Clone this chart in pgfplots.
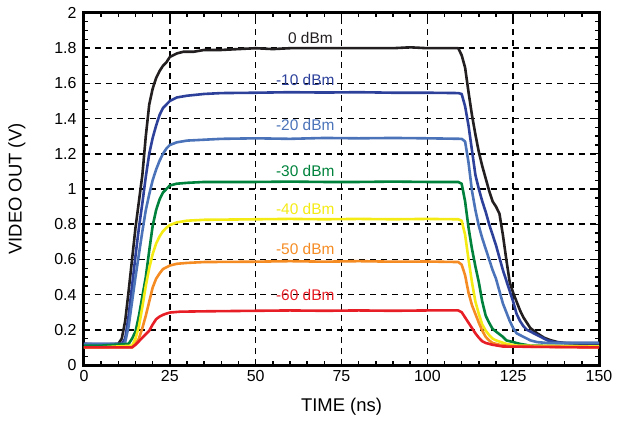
\documentclass[border=0pt]{standalone}
\usepackage{fontspec}
\setmainfont{Liberation Sans}
\usepackage{pgfplots}
\pgfplotsset{compat=1.18}
\definecolor{cblack}{RGB}{35,31,32}
\definecolor{cblue}{RGB}{45,65,155}
\definecolor{clblue}{RGB}{75,115,185}
\definecolor{cgreen}{RGB}{0,130,60}
\definecolor{cyellow}{RGB}{245,235,20}
\definecolor{corange}{RGB}{245,140,35}
\definecolor{cred}{RGB}{232,30,38}
\begin{document}
\begin{tikzpicture}
\begin{axis}[
  scale only axis, width=515bp, height=352bp,
  xmin=0, xmax=150, ymin=0, ymax=2,
  xtick={0,25,50,75,100,125,150}, ytick={0,0.2,0.4,0.6,0.8,1,1.2,1.4,1.6,1.8,2},
  minor x tick num=4, minor y tick num=3,
  tick pos=both, tick align=inside,
  major tick length=6bp, minor tick length=4bp,
  every tick/.style={black, line width=1.4bp},
  axis line style={line width=3bp, black},
  grid=major,
  major grid style={black, line width=1.6bp, dash pattern=on 6bp off 5bp},
  /pgf/number format/assume math mode=true,
  ticklabel style={font=\fontsize{16}{18}\selectfont},
  label style={font=\fontsize{18.5}{21}\selectfont},
  xlabel={TIME (ns)}, ylabel={VIDEO OUT (V)},
  xticklabel style={yshift=-2bp},
  yticklabel style={xshift=-4bp},
  xlabel shift=9bp,
  ylabel shift=22bp,
  every axis plot/.append style={line width=2.6bp, line join=round},
  clip=true,
]
% 0 dBm
\addplot[cblack] coordinates {(0,0.12)(5,0.115)(10,0.12)(11,0.15)(12,0.25)(13,0.42)(14,0.6)(15,0.78)(16,0.93)(17,1.08)(18,1.3)(19,1.48)(20,1.57)(21,1.63)(22,1.67)(23,1.70)(24,1.72)(25,1.75)(27,1.77)(29,1.78)(32,1.78)(35,1.79)(40,1.79)(45,1.795)(50,1.80)(55,1.795)(60,1.80)(70,1.80)(80,1.80)(90,1.80)(95,1.805)(100,1.80)(105,1.80)(109,1.80)(110,1.76)(111,1.69)(112,1.55)(113,1.42)(114,1.31)(115,1.21)(116,1.13)(117,1.06)(118,0.99)(119,0.93)(120,0.90)(121,0.86)(122,0.74)(123,0.60)(124,0.47)(125,0.41)(126,0.36)(127,0.31)(128,0.27)(129,0.24)(130,0.21)(132,0.18)(134,0.155)(136,0.14)(138,0.13)(140,0.125)(145,0.12)(150,0.12)};
% -10 dBm
\addplot[cblue] coordinates {(0,0.12)(5,0.12)(11,0.12)(12,0.15)(13,0.28)(14,0.45)(15,0.62)(16,0.78)(17,0.92)(18,1.07)(19,1.20)(20,1.29)(21,1.36)(22,1.42)(23,1.46)(24,1.48)(25,1.50)(27,1.52)(30,1.53)(35,1.54)(40,1.545)(50,1.547)(60,1.55)(70,1.548)(80,1.55)(90,1.547)(100,1.547)(109,1.545)(110,1.54)(111,1.47)(112,1.36)(113,1.22)(114,1.08)(115,1.00)(116,0.93)(117,0.87)(118,0.80)(119,0.74)(120,0.68)(121,0.61)(122,0.54)(123,0.48)(124,0.42)(125,0.36)(126,0.29)(127,0.25)(128,0.22)(129,0.20)(131,0.18)(133,0.16)(135,0.14)(137,0.13)(140,0.125)(150,0.125)};
% -20 dBm
\addplot[clblue] coordinates {(0,0.12)(5,0.12)(11.5,0.12)(12,0.13)(13,0.22)(14,0.36)(15,0.50)(16,0.63)(17,0.76)(18,0.88)(19,0.97)(20,1.05)(21,1.11)(22,1.16)(23,1.20)(24,1.23)(25,1.25)(27,1.265)(30,1.275)(35,1.28)(40,1.285)(50,1.288)(60,1.285)(70,1.29)(80,1.288)(90,1.29)(100,1.288)(110,1.285)(111,1.27)(112,1.15)(113,0.99)(114,0.88)(115,0.79)(116,0.72)(117,0.66)(118,0.60)(119,0.54)(120,0.49)(121,0.42)(122,0.35)(123,0.30)(124,0.25)(125,0.21)(126,0.18)(128,0.16)(130,0.14)(132,0.13)(135,0.125)(150,0.125)};
% -30 dBm
\addplot[cgreen] coordinates {(0,0.11)(5,0.11)(13,0.12)(14,0.15)(15,0.19)(16,0.28)(17,0.39)(18,0.50)(19,0.65)(20,0.79)(21,0.88)(22,0.94)(23,0.98)(24,1.00)(25,1.02)(27,1.03)(30,1.035)(35,1.04)(50,1.04)(60,1.042)(70,1.04)(80,1.04)(90,1.042)(100,1.04)(109,1.04)(110,1.03)(111,0.93)(112,0.78)(113,0.66)(114,0.56)(115,0.47)(116,0.36)(117,0.28)(118,0.24)(119,0.205)(120,0.19)(122,0.16)(123,0.14)(125,0.13)(127,0.12)(130,0.11)(150,0.105)};
% -40 dBm
\addplot[cyellow] coordinates {(0,0.10)(5,0.10)(14,0.11)(15,0.15)(16,0.22)(17,0.33)(18,0.45)(19,0.55)(20,0.63)(21,0.69)(22,0.73)(23,0.76)(24,0.78)(25,0.795)(27,0.81)(30,0.82)(35,0.825)(50,0.828)(60,0.83)(70,0.828)(80,0.83)(90,0.828)(100,0.83)(109,0.828)(110,0.82)(111,0.74)(112,0.60)(113,0.47)(114,0.36)(115,0.29)(116,0.23)(117,0.195)(118,0.17)(119,0.15)(120,0.14)(123,0.12)(126,0.11)(150,0.105)};
% -50 dBm
\addplot[corange] coordinates {(0,0.10)(5,0.10)(14,0.10)(15,0.12)(16,0.15)(17,0.21)(18,0.28)(19,0.36)(20,0.44)(21,0.49)(22,0.52)(23,0.545)(24,0.555)(25,0.565)(27,0.575)(30,0.58)(35,0.585)(50,0.587)(60,0.59)(70,0.587)(80,0.59)(90,0.587)(100,0.588)(109,0.585)(110,0.57)(111,0.51)(112,0.41)(113,0.34)(114,0.29)(115,0.24)(116,0.195)(117,0.16)(118,0.14)(119,0.125)(121,0.115)(125,0.105)(150,0.10)};
% -60 dBm
\addplot[cred] coordinates {(0,0.10)(5,0.10)(14,0.10)(15,0.115)(16,0.135)(17,0.155)(18,0.175)(19,0.195)(20,0.23)(21,0.26)(22,0.275)(23,0.285)(24,0.292)(25,0.298)(28,0.303)(35,0.305)(50,0.308)(60,0.31)(70,0.308)(80,0.31)(90,0.308)(100,0.31)(109,0.31)(110,0.30)(111,0.27)(112,0.24)(113,0.21)(114,0.18)(115,0.155)(116,0.135)(117,0.125)(119,0.115)(122,0.105)(150,0.10)};
\begin{scope}[font=\fontsize{15.5}{18}\selectfont]
\node[anchor=east, text=cblack, inner sep=0pt] at (axis cs:72.5,1.86) {0 dBm};
\node[anchor=east, text=cblue, inner sep=0pt] at (axis cs:73,1.62) {-10 dBm};
\node[anchor=east, text=clblue, inner sep=0pt] at (axis cs:73,1.365) {-20 dBm};
\node[anchor=east, text=cgreen, inner sep=0pt] at (axis cs:73,1.105) {-30 dBm};
\node[anchor=east, text=cyellow, inner sep=0pt] at (axis cs:73,0.886) {-40 dBm};
\node[anchor=east, text=corange, inner sep=0pt] at (axis cs:73,0.66) {-50 dBm};
\node[anchor=east, text=cred, inner sep=0pt] at (axis cs:73,0.40) {-60 dBm};
\end{scope}
\end{axis}
\path[use as bounding box] ([xshift=-84bp,yshift=-58bp]current axis.south west) rectangle ([xshift=23bp,yshift=13bp]current axis.north east);
\end{tikzpicture}
\end{document}
